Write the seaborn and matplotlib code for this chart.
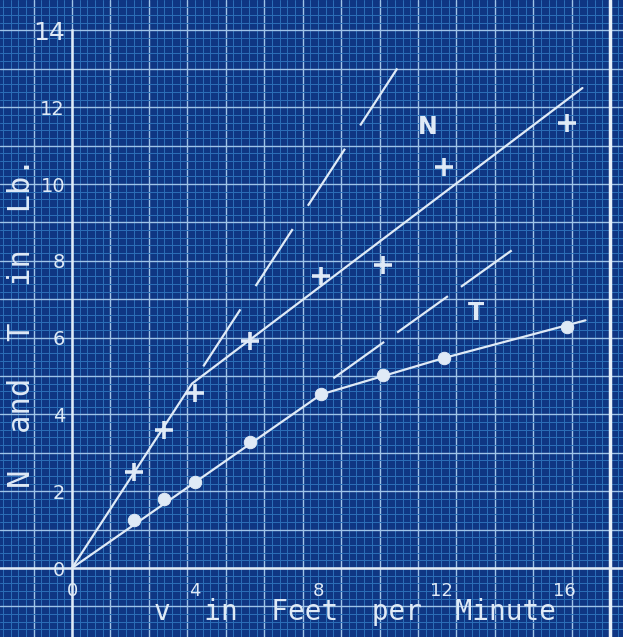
import matplotlib
matplotlib.use("Agg")
import matplotlib.pyplot as plt
from matplotlib.ticker import MultipleLocator
import seaborn as sns

# Readings: pull N and tension T (lb) against speed v (ft/min)
v_points = [2, 3, 4, 5.8, 8.1, 10.1, 12.1, 16.1]
N_points = [2.5, 3.6, 4.55, 5.9, 7.6, 7.9, 10.45, 11.6]
T_points = [1.25, 1.8, 2.25, 3.27, 4.52, 5.03, 5.47, 6.28]

# Faired curves through the readings
N_curve_v = [0, 3.9, 16.6]
N_curve_lb = [0, 4.8, 12.5]
T_curve_v = [0, 8.1, 12.1, 16.7]
T_curve_lb = [0, 4.52, 5.47, 6.45]

# Initial-slope tangents, drawn broken
N_tangent_v = [4.27, 10.7]
N_tangent_lb = [5.25, 13.16]
T_tangent_v = [8.5, 14.35]
T_tangent_lb = [4.94, 8.3]

x_ticks = [0, 2, 4, 6, 8, 10, 12, 14, 16]
x_tick_labels = ["0", "", "4", "", "8", "", "12", "", "16"]
y_ticks = [0, 2, 4, 6, 8, 10, 12, 14]
y_tick_labels = ["0", "2", "4", "6", "8", "10", "12", "14"]

x_title = "v  in  Feet  per  Minute"
y_title = "N  and  T  in  Lb."

sns.set_theme(style="white")
plt.rcParams["font.family"] = ["DejaVu Sans"]
plt.rcParams["lines.scale_dashes"] = False

BG = "#0f3683"
INK = "#dfeaf6"

fig = plt.figure(figsize=(6.23, 6.37), dpi=100)
fig.patch.set_facecolor(BG)

xlim = (-72 / 30.75, (623 - 72) / 30.75)
ylim = ((568 - 637) / 38.4, 568 / 38.4)

# Graph paper underneath
paper = fig.add_axes([0, 0, 1, 1])
paper.set_facecolor(BG)
paper.set_xlim(xlim)
paper.set_ylim(ylim)
paper.xaxis.set_major_locator(MultipleLocator(1.25))
paper.xaxis.set_minor_locator(MultipleLocator(0.25))
paper.yaxis.set_major_locator(MultipleLocator(1))
paper.yaxis.set_minor_locator(MultipleLocator(0.2))
paper.grid(True, which="minor", color="#2c6fb8", lw=0.7)
paper.grid(True, which="major", color="#9fc4e8", lw=1.0)
paper.tick_params(which="both", length=0, labelbottom=False, labelleft=False)
for s in paper.spines.values():
    s.set_visible(False)
paper.axvline(17.5, color="#e8f1fa", lw=2.5)

# Plot layer
ax = fig.add_axes([0, 0, 1, 1])
ax.patch.set_alpha(0)

sns.lineplot(x=N_curve_v, y=N_curve_lb, ax=ax, color=INK, lw=1.6, estimator=None)
sns.lineplot(x=T_curve_v, y=T_curve_lb, ax=ax, color=INK, lw=1.6, estimator=None)
sns.lineplot(x=N_tangent_v, y=N_tangent_lb, ax=ax, color=INK, lw=1.6, estimator=None)
ax.lines[-1].set_dashes((49, 20))
sns.lineplot(x=T_tangent_v, y=T_tangent_lb, ax=ax, color=INK, lw=1.6, estimator=None)
ax.lines[-1].set_dashes((45, 11.5))

sns.scatterplot(x=v_points, y=N_points, ax=ax, marker="+", s=170, color=INK,
                linewidth=2.6, zorder=5)
sns.scatterplot(x=v_points, y=T_points, ax=ax, marker="o", s=80, color=INK,
                edgecolor=INK, zorder=5)

ax.set_xlim(xlim)
ax.set_ylim(ylim)

for side in ("top", "right"):
    ax.spines[side].set_visible(False)
ax.spines["left"].set_position(("data", 0))
ax.spines["bottom"].set_position(("data", 0))
ax.spines["left"].set_bounds(ylim[0], 14)
for side in ("left", "bottom"):
    ax.spines[side].set_color(INK)
    ax.spines[side].set_linewidth(1.8)

ax.set_xticks(x_ticks, x_tick_labels)
ax.set_yticks(y_ticks, y_tick_labels)
ax.tick_params(axis="x", direction="out", length=6, width=2, color=INK,
               labelcolor=INK, labelsize=13, pad=4)
ax.tick_params(axis="y", length=0, labelcolor=INK, labelsize=14, pad=5)
ax.get_yticklabels()[-1].set_fontsize(18)
ax.set_xlabel("")
ax.set_ylabel("")

ax.text(9.2, -1.15, x_title, color=INK, fontsize=20, family="DejaVu Sans Mono",
        ha="center", va="center")
ax.text(-1.63, 6.4, y_title, color=INK, fontsize=22, family="DejaVu Sans Mono",
        rotation=90, ha="center", va="center")

ax.text(11.58, 11.48, "N", color=INK, fontsize=17, fontweight="bold",
        ha="center", va="center")
ax.text(13.14, 6.64, "T", color=INK, fontsize=17, fontweight="bold",
        ha="center", va="center")

fig.savefig("out.png", dpi=100, facecolor=BG)
